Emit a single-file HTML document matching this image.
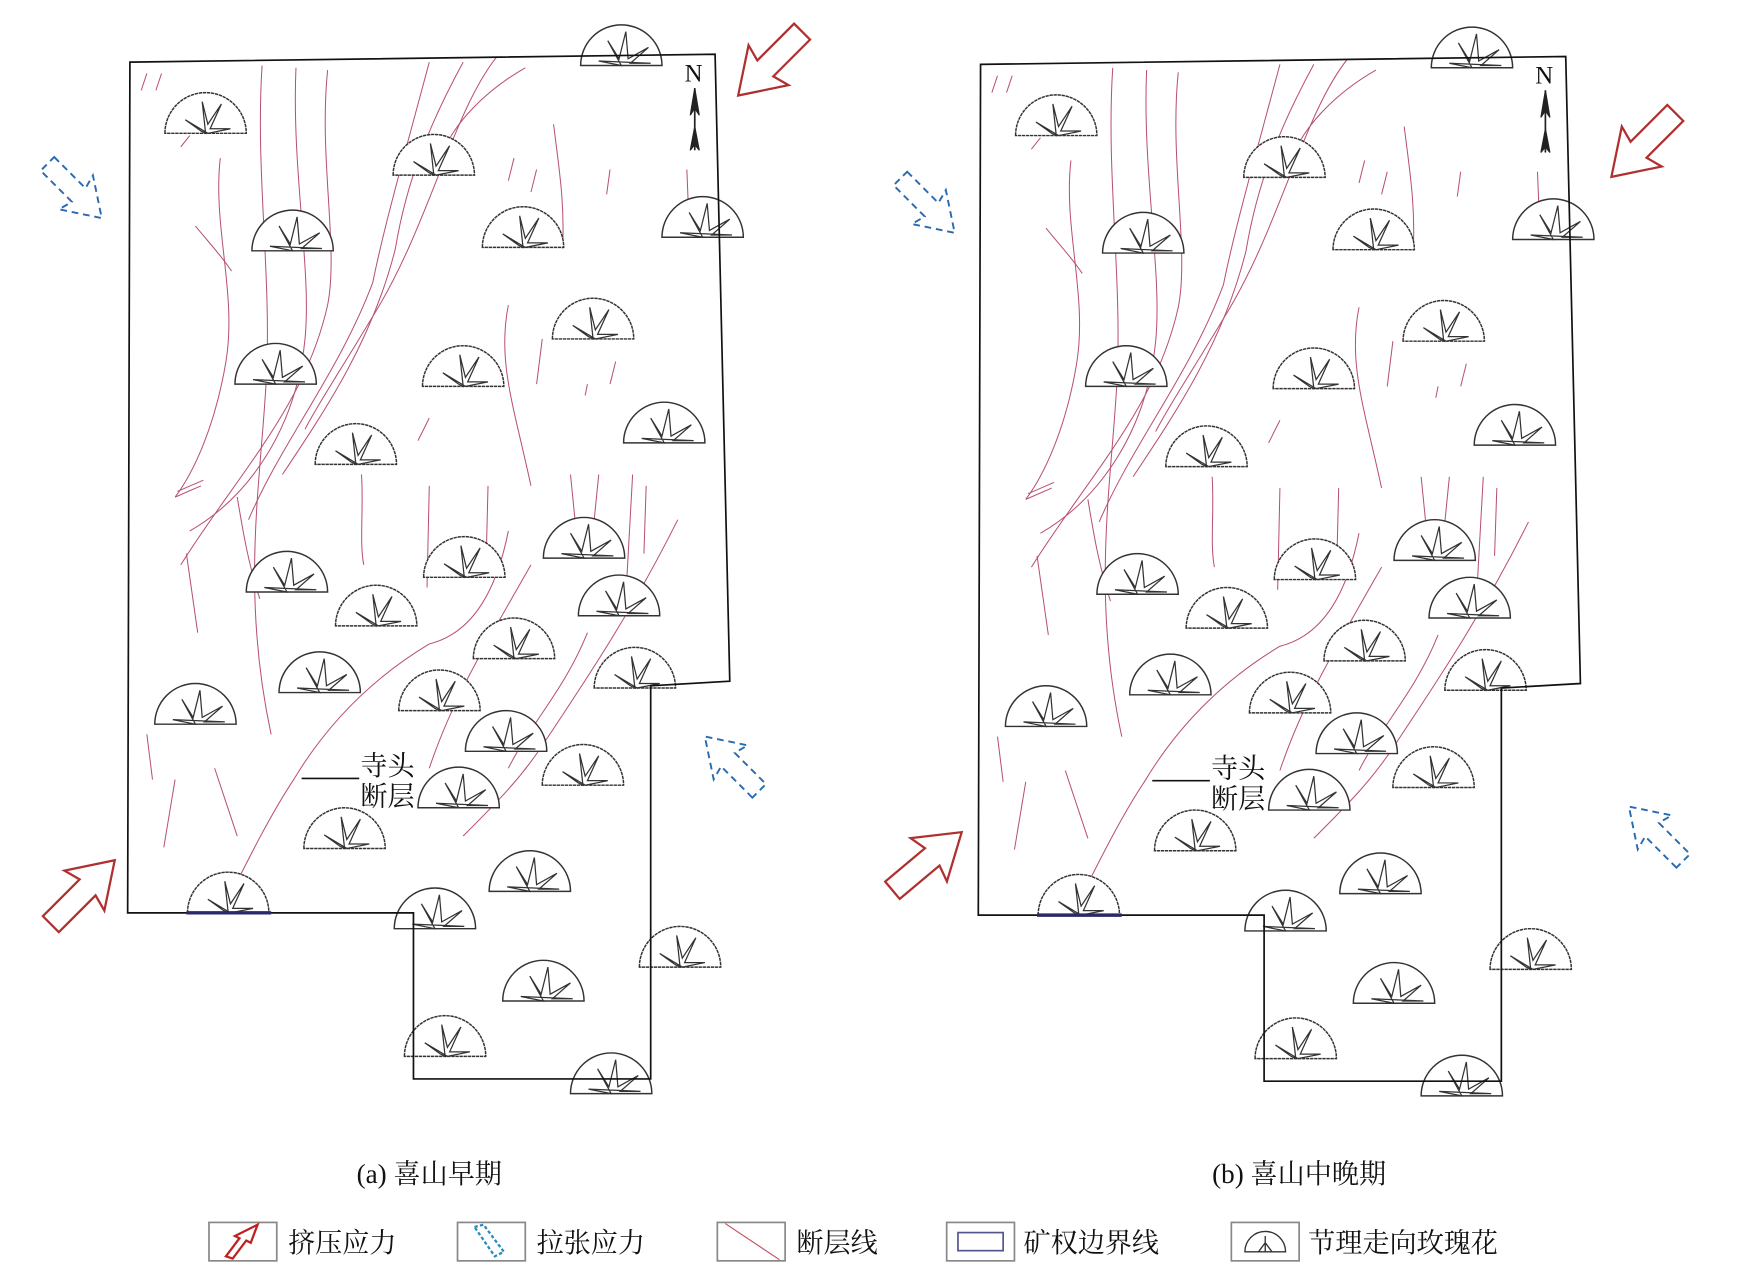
<!DOCTYPE html>
<html><head><meta charset="utf-8">
<style>
html,body{margin:0;padding:0;background:#fff;width:1751px;height:1271px;overflow:hidden}
svg{display:block}
text{font-family:"Liberation Serif","Noto Serif CJK SC","Noto Sans CJK SC",serif;fill:#111}
</style></head><body>
<svg width="1751" height="1271" viewBox="0 0 1550 1125" preserveAspectRatio="none" xmlns="http://www.w3.org/2000/svg">
<defs>
<g id="rose">
  <path d="M-36,0 A36,36 0 0 1 36,0 Z" fill="#fff" stroke="#333" stroke-width="1.3" stroke-dasharray="3,0.6"/>
  <path d="M0,0 L-3,-28 L2,-8 L14,-26 L4,-4 L22,-4 L2,0 L-18,-12 L-4,-2 Z" fill="none" stroke="#333" stroke-width="1.1"/>
</g>
<g id="rose2">
  <path d="M-36,0 A36,36 0 0 1 36,0 Z" fill="#fff" stroke="#333" stroke-width="1.3"/>
  <path d="M0,0 L-12,-22 L-2,-6 L4,-30 L6,-6 L24,-16 L8,-2 L26,-2 L-20,-4 Z" fill="none" stroke="#333" stroke-width="1.1"/>
</g>
<polygon id="arr" points="0,-10 46,-10 42,-25 80,0 42,25 46,10 0,10"/>
<g id="panel">
  <g fill="none" stroke="#b85070" stroke-width="0.9">
    <path d="M232,58 C226,150 240,240 236,330 C232,420 212,520 240,650"/>
    <path d="M262,60 C258,150 276,240 270,300 C262,380 220,440 168,470"/>
    <path d="M290,62 C282,140 300,220 290,270 C270,360 210,420 160,500"/>
    <path d="M195,140 C188,200 210,260 200,320 C190,380 170,420 155,440"/>
    <path d="M380,55 C360,130 340,200 330,250 C300,330 250,390 220,460"/>
    <path d="M410,55 C380,110 360,160 350,220 C330,300 290,360 250,420"/>
    <path d="M440,50 C400,100 380,200 330,280 C300,330 280,360 270,380"/>
    <path d="M465,60 C430,80 400,110 390,140"/>
    <path d="M173,200 C185,215 195,225 205,240"/>
    <path d="M450,270 C440,320 455,360 470,430"/>
    <path d="M490,110 C495,150 500,180 498,220"/>
    <path d="M600,460 C560,540 520,600 480,660 C460,690 440,710 410,740"/>
    <path d="M470,500 C430,570 400,620 380,680"/>
    <path d="M450,470 C440,520 420,560 380,570 C330,600 290,640 260,690 C240,720 220,760 200,800"/>
    <path d="M520,560 C500,610 470,640 450,680"/>
    <path d="M210,440 C215,470 220,500 230,530"/>
    <path d="M320,420 C322,450 318,480 322,500"/>
    <path d="M380,430 L378,520"/>
    <path d="M432,430 L430,510"/>
    <path d="M505,420 L510,470"/>
    <path d="M530,420 L525,470"/>
    <path d="M560,420 L555,510"/>
    <path d="M572,430 L570,490"/>
    <path d="M165,490 L175,560"/>
    <path d="M155,690 L145,750"/>
    <path d="M190,680 L210,740"/>
    <path d="M130,650 L135,690"/>
    <path d="M160,130 L168,120"/>
    <path d="M125,80 L130,65"/>
    <path d="M138,80 L143,65"/>
    <path d="M545,320 L540,340"/>
    <path d="M520,340 L518,350"/>
    <path d="M480,300 L475,340"/>
    <path d="M380,370 L370,390"/>
    <path d="M540,150 L537,172"/>
    <path d="M475,150 L470,170"/>
    <path d="M455,140 L450,160"/>
    <path d="M608,150 L610,200"/>
    <path d="M157,435 L180,425"/>
    <path d="M155,440 L178,430"/>
  </g>
  <use href="#rose" x="182" y="118"/>
  <use href="#rose2" x="550" y="58"/>
  <use href="#rose" x="384" y="155"/>
  <use href="#rose2" x="259" y="222"/>
  <use href="#rose" x="463" y="219"/>
  <use href="#rose2" x="622" y="210"/>
  <use href="#rose" x="525" y="300"/>
  <use href="#rose2" x="244" y="340"/>
  <use href="#rose" x="410" y="342"/>
  <use href="#rose2" x="588" y="392"/>
  <use href="#rose" x="315" y="411"/>
  <use href="#rose2" x="254" y="524"/>
  <use href="#rose" x="411" y="511"/>
  <use href="#rose2" x="517" y="494"/>
  <use href="#rose" x="333" y="554"/>
  <use href="#rose2" x="548" y="545"/>
  <use href="#rose" x="455" y="583"/>
  <use href="#rose2" x="283" y="613"/>
  <use href="#rose" x="562" y="609"/>
  <use href="#rose2" x="173" y="641"/>
  <use href="#rose" x="389" y="629"/>
  <use href="#rose2" x="448" y="665"/>
  <use href="#rose" x="516" y="695"/>
  <use href="#rose2" x="406" y="715"/>
  <use href="#rose" x="305" y="751"/>
  <use href="#rose2" x="469" y="789"/>
  <use href="#rose" x="202" y="808"/>
  <use href="#rose2" x="385" y="822"/>
  <use href="#rose" x="602" y="856"/>
  <use href="#rose2" x="481" y="886"/>
  <use href="#rose" x="394" y="935"/>
  <use href="#rose2" x="541" y="968"/>
  <polygon points="115,55 633,48 646,603 576,607 576,955 366,955 366,808 113,808" fill="none" stroke="#111" stroke-width="1.5"/>
  <line x1="165" y1="808" x2="240" y2="808" stroke="#2a2a6a" stroke-width="3"/>
  <text x="606" y="72" font-size="22">N</text>
  <path d="M615,78 L611,102 L615,96 L619,102 Z M615,112 L611,133 L615,128 L619,133 Z" fill="#222" stroke="#222" stroke-width="1"/>
  <line x1="615" y1="78" x2="615" y2="133" stroke="#222" stroke-width="1.5"/>
  <line x1="267" y1="689" x2="318" y2="689" stroke="#111" stroke-width="1.5"/>
  <text x="319" y="686" font-size="24">寺头</text>
  <text x="319" y="713" font-size="24">断层</text>
</g>
</defs>

<use href="#panel"/>
<use href="#panel" transform="translate(753,2)"/>

<g fill="none" stroke="#b03030" stroke-width="2">
  <use href="#arr" transform="translate(710,28) rotate(135)"/>
  <use href="#arr" transform="translate(45,818) rotate(-45)"/>
  <use href="#arr" transform="translate(1483,100) rotate(135)"/>
  <use href="#arr" transform="translate(790,788) rotate(-40)"/>
</g>
<g fill="none" stroke="#2a6ab0" stroke-width="2" stroke-dasharray="7,5">
  <use href="#arr" transform="translate(42,145) rotate(45) scale(0.85)"/>
  <use href="#arr" transform="translate(672,700) rotate(-135) scale(0.85)"/>
  <use href="#arr" transform="translate(797,158) rotate(45) scale(0.85)"/>
  <use href="#arr" transform="translate(1490,762) rotate(-135) scale(0.85)"/>
</g>

<text x="380" y="1047" font-size="24" text-anchor="middle">(a) 喜山早期</text>
<text x="1150" y="1047" font-size="24" text-anchor="middle">(b) 喜山中晚期</text>

<g stroke="#888" stroke-width="1.5" fill="#fff">
  <rect x="185" y="1082" width="60" height="34"/>
  <rect x="405" y="1082" width="60" height="34"/>
  <rect x="635" y="1082" width="60" height="34"/>
  <rect x="838" y="1082" width="60" height="34"/>
  <rect x="1090" y="1082" width="60" height="34"/>
</g>
<polygon points="200,1112 212,1096 208,1094 228,1084 222,1100 218,1098 206,1114" fill="none" stroke="#c02020" stroke-width="2"/>
<polygon points="420,1086 428,1084 446,1108 438,1112" fill="none" stroke="#2a8ac0" stroke-width="2" stroke-dasharray="3,2"/>
<line x1="642" y1="1083" x2="690" y2="1115" stroke="#c05060" stroke-width="1"/>
<rect x="848" y="1091" width="40" height="16" fill="none" stroke="#555590" stroke-width="1.5"/>
<path d="M1102,1108 A18,18 0 0 1 1138,1108 Z M1120,1108 L1120,1094 M1114,1108 L1120,1100 L1126,1108" fill="none" stroke="#333" stroke-width="1.2"/>
<g font-size="24">
  <text x="255" y="1108">挤压应力</text>
  <text x="475" y="1108">拉张应力</text>
  <text x="705" y="1108">断层线</text>
  <text x="906" y="1108">矿权边界线</text>
  <text x="1158" y="1108">节理走向玫瑰花</text>
</g>
</svg>
</body></html>
